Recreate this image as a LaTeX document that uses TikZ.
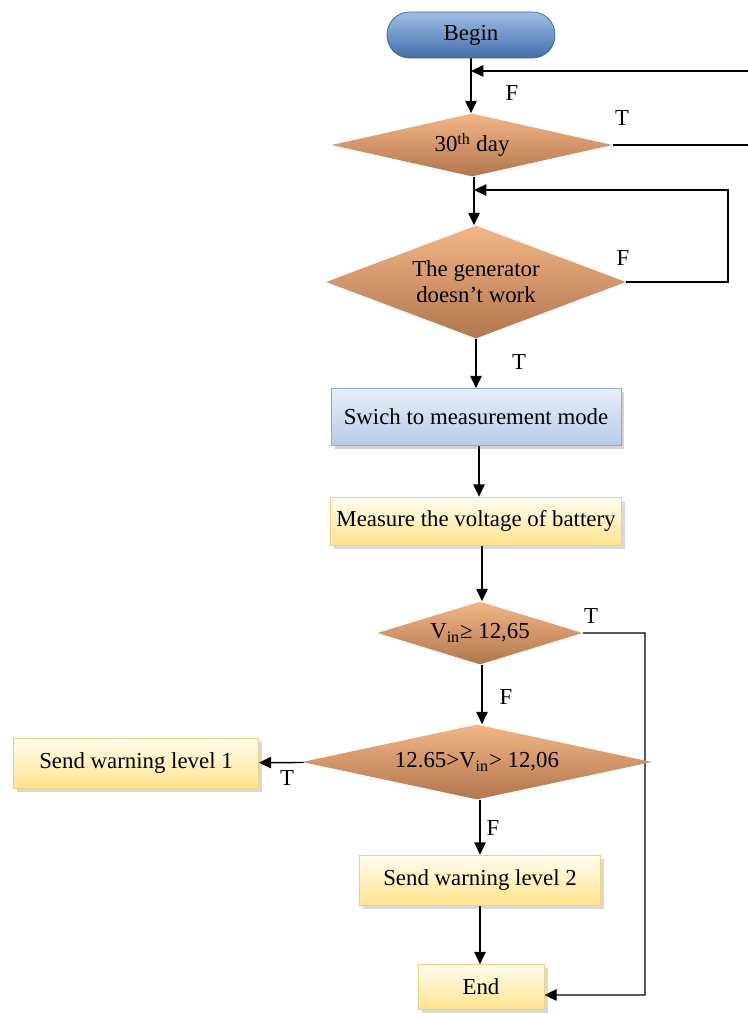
\documentclass[tikz,border=0pt]{standalone}
\usepackage{fontspec}
\setmainfont{Liberation Serif}
\usetikzlibrary{arrows.meta, positioning, shapes.geometric, shadows, backgrounds}

\definecolor{pilltop}{RGB}{160,190,230}
\definecolor{pillbot}{RGB}{66,110,170}
\definecolor{pillline}{RGB}{60,98,150}
\definecolor{bluetop}{RGB}{232,239,249}
\definecolor{bluebot}{RGB}{182,202,232}
\definecolor{blueline}{RGB}{142,170,219}
\definecolor{yeltop}{RGB}{255,253,240}
\definecolor{yelbot}{RGB}{255,227,140}
\definecolor{yelline}{RGB}{238,208,128}
\definecolor{diatop}{RGB}{242,182,134}
\definecolor{diamid}{RGB}{248,194,148}
\definecolor{diabot}{RGB}{178,118,78}

\tikzset{
  terminal/.style={draw=pillline, rounded corners=0.45cm, top color=pilltop, bottom color=pillbot, font=\fontsize{13}{15}\selectfont},
  bluebox/.style={draw=blueline, top color=bluetop, bottom color=bluebot, drop shadow={shadow xshift=2pt, shadow yshift=-2pt, opacity=0.35}, font=\fontsize{13}{15}\selectfont},
  yelbox/.style={draw=yelline, top color=yeltop, bottom color=yelbot, drop shadow={shadow xshift=2pt, shadow yshift=-2pt, opacity=0.3}, font=\fontsize{13}{15}\selectfont},
  decision/.style={diamond, inner sep=0pt, top color=diatop, middle color=diamid, bottom color=diabot, align=center, font=\fontsize{13}{15}\selectfont},
  tf/.style={font=\fontsize{13}{15}\selectfont},
  flow/.style={->, line width=0.8pt},
  loop/.style={->, line width=0.6pt}
}

\begin{document}
\begin{tikzpicture}[x=0.02cm, y=-0.02cm, >={Triangle[length=7pt, width=6.5pt]}]
        \useasboundingbox (0,0) rectangle (747,1014);

        % nodes
        \node[terminal, minimum width=3.36cm, minimum height=0.92cm] (begin) at (471,35) {Begin};
        \node[decision, aspect=4.46, minimum width=5.62cm, minimum height=1.26cm] (day) at (472,145) {30\textsuperscript{th} day};
        \node[decision, aspect=2.65, minimum width=6.0cm, minimum height=2.26cm] (gen) at (476,282) {The generator\\doesn’t work};
        \node[bluebox, minimum width=5.8cm, minimum height=1.14cm] (swich) at (476,417) {Swich to measurement mode};
        \node[yelbox, minimum width=5.78cm, minimum height=0.96cm] (measure) at (476,521) {Measure the voltage of battery};
        \node[decision, aspect=3.25, minimum width=4.1cm, minimum height=1.26cm] (vin) at (480,633) {V\textsubscript{in}≥ 12,65};
        \node[decision, aspect=4.67, minimum width=7.0cm, minimum height=1.5cm] (range) at (477,762) {12.65>V\textsubscript{in}> 12,06};
        \node[yelbox, minimum width=4.9cm, minimum height=1.0cm] (warnA) at (136,763) {Send warning level 1};
        \node[yelbox, minimum width=4.82cm, minimum height=1.0cm] (warnB) at (480,880) {Send warning level 2};
        \node[yelbox, minimum width=2.52cm, minimum height=0.9cm] (end) at (481,987) {End};

        % labels
        \node[tf] (fA) at (512,93) {F};
        \node[tf] (tA) at (622,118) {T};
        \node[tf] (fB) at (623,258) {F};
        \node[tf] (tB) at (519,362) {T};
        \node[tf] (tC) at (591,616) {T};
        \node[tf] (fC) at (506,697) {F};
        \node[tf] (tD) at (287,778) {T};
        \node[tf] (fD) at (493,828) {F};

        % corners of the loops
        \coordinate (joinA) at (begin.south |- 0,71);
        \coordinate (joinB) at (474,190);
        \coordinate (endin) at ([yshift=-0.16cm]end.east);

        % edges
        \begin{scope}[on background layer]
        \draw[flow] (begin) -- (begin.south |- day.north);
        \draw[flow] (day.south -| 474,0) -- (gen.north -| 474,0);
        \draw[flow] (gen) -- (gen.south |- swich.north);
        \draw[flow] (swich.south -| 479,0) -- (measure.north -| 479,0);
        \draw[flow] (measure.south -| 482,0) -- (vin.north -| 482,0);
        \draw[flow] (vin.south -| 482,0) -- (range.north -| 482,0);
        \draw[flow] (range.south -| 480,0) -- (warnB.north -| 480,0);
        \draw[flow] (warnB) -- (warnB.south |- end.north);
        \draw[flow] (range) -- (warnA);

        \draw[loop] (day.east) -- (752,145) -- (752,71) -- (joinA);
        \draw[loop] (gen.east) -- (728,282) -- (728,190) -- (joinB);
        \draw[loop] (vin.east) -- (645,633) -- (645,995) -- (endin);
        \end{scope}
\end{tikzpicture}
\end{document}
